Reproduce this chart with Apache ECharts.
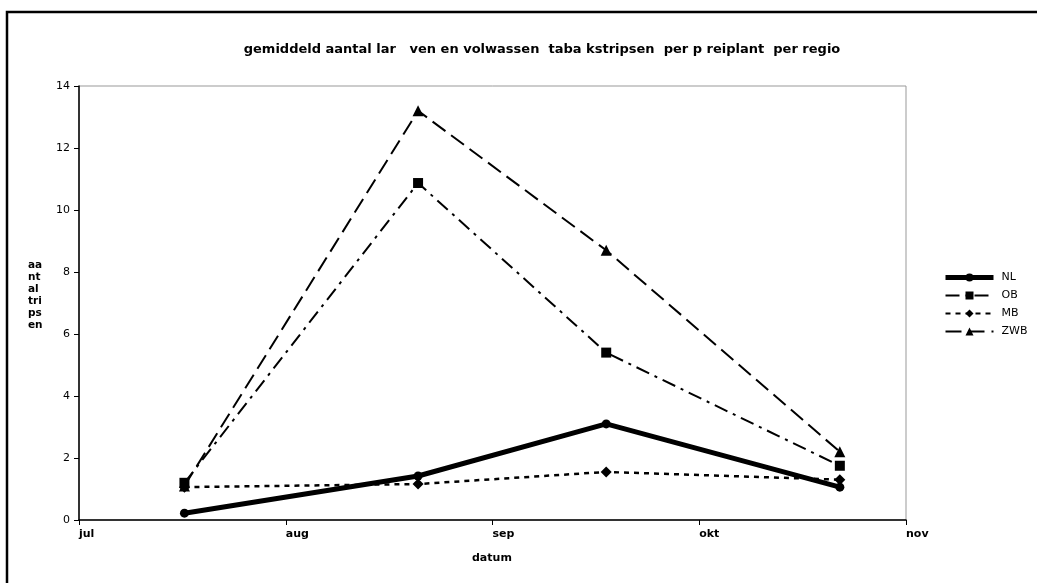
<!DOCTYPE html>
<html>
<head>
<meta charset="utf-8">
<script src="https://cdn.jsdelivr.net/npm/echarts@6/dist/echarts.min.js"></script>
<style>html,body{margin:0;padding:0;background:#fff}#c{width:1037px;height:583px}</style>
</head>
<body>
<div id="c"></div>
<script>
// x positions in months after 1 July (0 = jul, 1 = aug, ...)
const xMonths = [0.51, 1.64, 2.55, 3.68];
const monthLabels = ['jul', 'aug', 'sep', 'okt', 'nov'];
const seriesNames = ['NL', 'OB', 'MB', 'ZWB'];
const NL = [0.22, 1.42, 3.1, 1.06];
const OB = [1.2, 10.87, 5.4, 1.75];
const MB = [1.06, 1.16, 1.55, 1.3];
const ZWB = [1.1, 13.2, 8.7, 2.2];

const pair = arr => arr.map((v, i) => [xMonths[i], v]);
const font = '"DejaVu Sans", Verdana, sans-serif';

const chart = echarts.init(document.getElementById('c'), null, {renderer: 'canvas'});
chart.setOption({
  animation: false,
  backgroundColor: '#fff',
  title: {
    text: 'gemiddeld aantal lar   ven en volwassen  taba kstripsen  per p reiplant  per regio',
    left: 537, top: 38, textAlign: 'center',
    textStyle: {fontFamily: font, fontSize: 13, fontWeight: 'bold', color: '#000'}
  },
  graphic: [
    {type: 'rect', shape: {x: 7, y: 12, width: 1040, height: 590}, style: {fill: 'none', stroke: '#000', lineWidth: 2.5}, silent: true},
    {type: 'text', left: 28, top: 259, style: {text: 'aa\nnt\nal\ntri\nps\nen', font: 'bold 10.5px ' + font, fill: '#000', lineHeight: 12}},
    {type: 'text', left: 472, top: 553, style: {text: 'datum', font: 'bold 11px ' + font, fill: '#000'}}
  ],
  legend: {
    orient: 'vertical', left: 938, top: 267,
    itemWidth: 48, itemHeight: 10, itemGap: 7,
    data: [
      {name: seriesNames[0], lineStyle: {width: 5}},
      {name: seriesNames[1]},
      {name: seriesNames[2]},
      {name: seriesNames[3]}
    ],
    textStyle: {fontFamily: font, fontSize: 11, color: '#000', padding: [0, 0, 0, 3]}
  },
  grid: {left: 79, right: 131, top: 86, bottom: 63, show: true, borderColor: '#999', borderWidth: 1, containLabel: false},
  xAxis: {
    type: 'value', min: 0, max: 4, interval: 1,
    axisLine: {lineStyle: {color: '#000', width: 1.5}},
    axisTick: {show: true, length: 5, lineStyle: {color: '#000'}},
    splitLine: {show: false},
    axisLabel: {
      formatter: v => monthLabels[Math.round(v)], align: 'left', margin: 9,
      fontFamily: font, fontSize: 11, fontWeight: 'bold', color: '#000'
    }
  },
  yAxis: {
    type: 'value', min: 0, max: 14, interval: 2,
    axisLine: {show: true, lineStyle: {color: '#000', width: 1.5}},
    axisTick: {show: true, length: 5, lineStyle: {color: '#000'}},
    splitLine: {show: false},
    axisLabel: {fontFamily: font, fontSize: 11, color: '#000', margin: 9}
  },
  series: [
    {name: 'NL', type: 'line', data: pair(NL), symbol: 'circle', symbolSize: 9,
      lineStyle: {color: '#000', width: 5}, itemStyle: {color: '#000'}},
    {name: 'OB', type: 'line', data: pair(OB), symbol: 'rect', symbolSize: 10,
      lineStyle: {color: '#000', width: 2, type: [14, 6, 3, 6]}, itemStyle: {color: '#000'}},
    {name: 'MB', type: 'line', data: pair(MB), symbol: 'diamond', symbolSize: 11,
      lineStyle: {color: '#000', width: 2.5, type: [5, 5]}, itemStyle: {color: '#000'}},
    {name: 'ZWB', type: 'line', data: pair(ZWB), symbol: 'triangle', symbolSize: 11,
      lineStyle: {color: '#000', width: 2, type: [16, 7]}, itemStyle: {color: '#000'}}
  ]
});
</script>
</body>
</html>
